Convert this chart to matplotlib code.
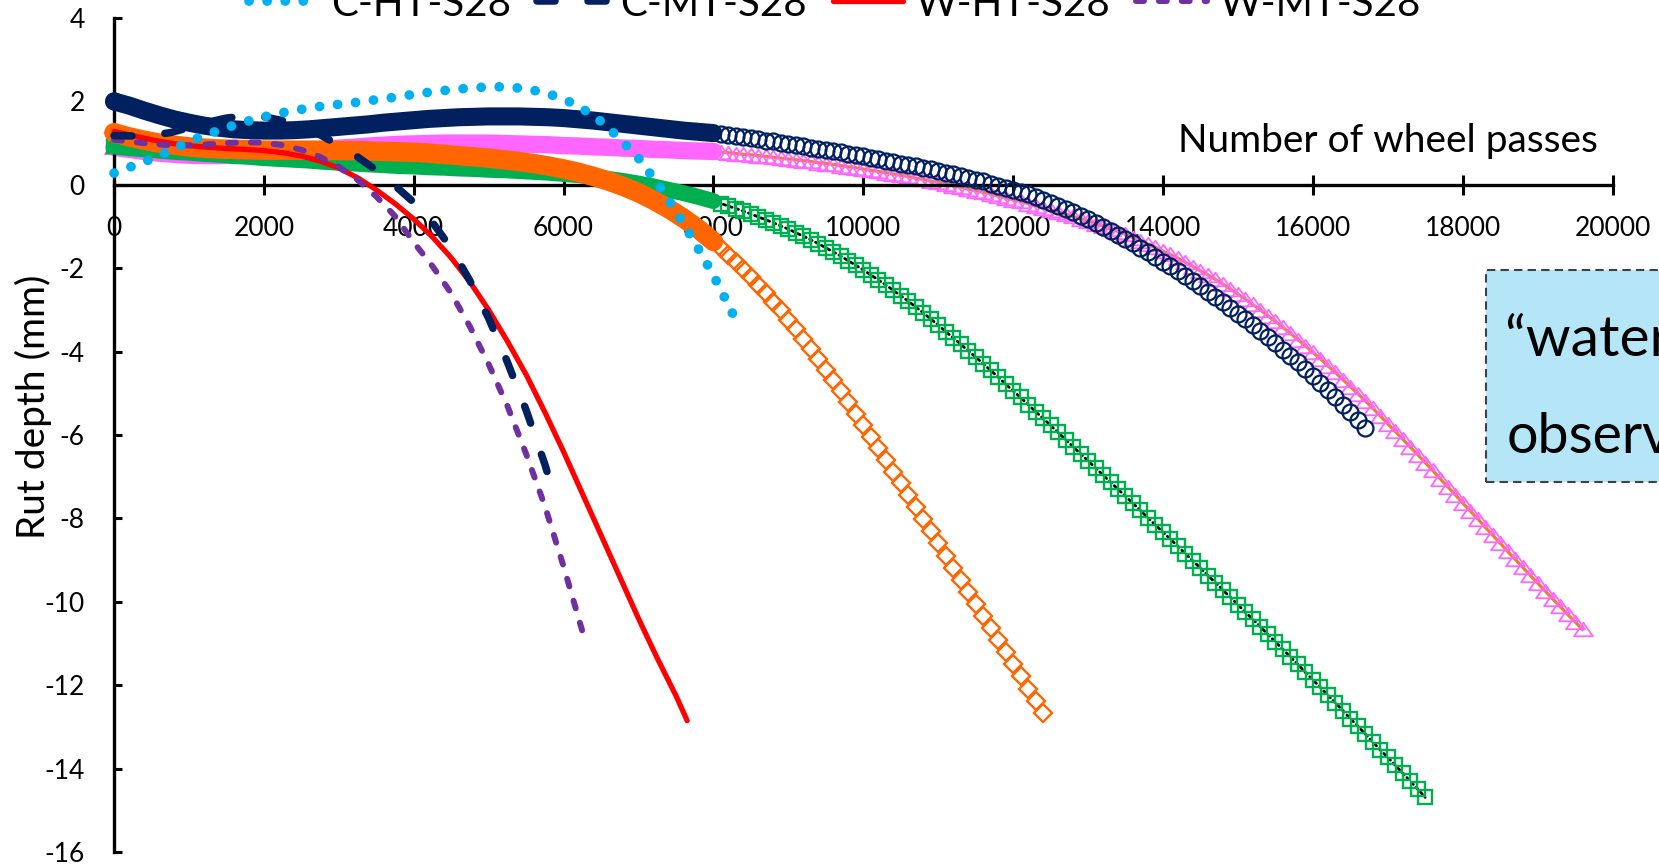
import numpy as np
import matplotlib
matplotlib.use("Agg")
import matplotlib.pyplot as plt
from matplotlib.patches import Rectangle
from matplotlib.path import Path

plt.rcParams['font.family'] = ['Lato', 'DejaVu Sans']
plt.rcParams['axes.unicode_minus'] = False

# ---------------- fitted rut-depth curves (mm vs wheel passes) ----------------
c_ht_x = list(range(0, 8001, 250)) + [8260]
c_ht_y = [0.28, 0.45, 0.62, 0.82, 1.04, 1.21, 1.37, 1.51, 1.63, 1.73, 1.81, 1.88,
          1.93, 1.98, 2.04, 2.10, 2.17, 2.23, 2.28, 2.32, 2.35, 2.35, 2.30, 2.21,
          2.06, 1.83, 1.52, 1.11, 0.64, 0.04, -0.63, -1.38, -2.17, -3.10]

c_mt_x = list(range(0, 5751, 250)) + [5800]
c_mt_y = [1.18, 1.17, 1.19, 1.25, 1.37, 1.50, 1.60, 1.65, 1.63, 1.54, 1.40, 1.20,
          0.95, 0.67, 0.35, -0.02, -0.42, -0.90, -1.52, -2.30, -3.20, -4.25,
          -5.40, -6.70, -7.00]

w_ht_x = list(range(0, 7501, 250)) + [7650]
w_ht_y = [1.28, 1.18, 1.08, 1.00, 0.94, 0.90, 0.87, 0.85, 0.82, 0.77, 0.69, 0.57,
          0.40, 0.17, -0.12, -0.45, -0.82, -1.25, -1.75, -2.33, -3.00, -3.75,
          -4.55, -5.45, -6.40, -7.40, -8.40, -9.40, -10.40, -11.35, -12.25, -12.85]

w_mt_x = list(range(0, 6251, 250))
w_mt_y = [1.08, 1.03, 0.98, 0.95, 0.95, 0.97, 1.00, 1.02, 1.01, 0.95, 0.84, 0.67,
          0.43, 0.12, -0.28, -0.75, -1.38, -1.95, -2.60, -3.40, -4.30, -5.30,
          -6.45, -7.70, -9.15, -10.70]

legend_labels = ['C-HT-S28', 'C-MT-S28', 'W-HT-S28', 'W-MT-S28']

# ---------------- measured rut depth ----------------
# 0-8000 passes (every 200 passes) and the later readings (every 100 passes)
band_x = list(range(0, 8001, 200))

circle_band = [2.00, 1.90, 1.78, 1.67, 1.57, 1.49, 1.42, 1.37, 1.33, 1.31, 1.30,
               1.30, 1.31, 1.33, 1.36, 1.39, 1.42, 1.45, 1.49, 1.52, 1.55, 1.58,
               1.60, 1.62, 1.63, 1.64, 1.64, 1.64, 1.63, 1.62, 1.60, 1.57, 1.54,
               1.50, 1.46, 1.42, 1.38, 1.34, 1.30, 1.27, 1.24]
circle_tail_x = list(range(8100, 16701, 100))
circle_tail = [1.22, 1.19, 1.17, 1.14, 1.12, 1.09, 1.06, 1.04, 1.01, 0.98,
               0.95, 0.92, 0.89, 0.87, 0.84, 0.81, 0.78, 0.74, 0.71, 0.68,
               0.65, 0.61, 0.58, 0.55, 0.51, 0.48, 0.44, 0.41, 0.37, 0.33,
               0.29, 0.25, 0.21, 0.16, 0.12, 0.08, 0.03, -0.02, -0.07, -0.12,
               -0.17, -0.23, -0.29, -0.36, -0.43, -0.50, -0.58, -0.66, -0.74, -0.83,
               -0.92, -1.01, -1.10, -1.20, -1.30, -1.40, -1.51, -1.61, -1.72, -1.84,
               -1.95, -2.07, -2.19, -2.31, -2.43, -2.56, -2.69, -2.82, -2.95, -3.09,
               -3.22, -3.36, -3.51, -3.65, -3.80, -3.95, -4.11, -4.26, -4.42, -4.59,
               -4.75, -4.92, -5.09, -5.27, -5.45, -5.64, -5.83]

tri_band = [0.90, 0.85, 0.80, 0.76, 0.73, 0.71, 0.70, 0.70, 0.71, 0.72, 0.74,
            0.76, 0.79, 0.82, 0.85, 0.88, 0.90, 0.93, 0.95, 0.97, 0.98, 0.99,
            1.00, 1.00, 1.00, 1.00, 0.99, 0.98, 0.97, 0.96, 0.94, 0.93, 0.91,
            0.90, 0.88, 0.87, 0.85, 0.84, 0.82, 0.81, 0.80]
tri_tail_x = list(range(8100, 19601, 100))
tri_tail = [0.78, 0.77, 0.75, 0.73, 0.72, 0.70, 0.68, 0.66, 0.64, 0.62,
            0.60, 0.58, 0.56, 0.53, 0.51, 0.49, 0.46, 0.43, 0.41, 0.38,
            0.35, 0.32, 0.29, 0.26, 0.23, 0.20, 0.16, 0.13, 0.09, 0.06,
            0.02, -0.02, -0.06, -0.10, -0.14, -0.18, -0.22, -0.27, -0.31, -0.36,
            -0.40, -0.45, -0.50, -0.55, -0.60, -0.65, -0.70, -0.76, -0.81, -0.87,
            -0.93, -0.99, -1.06, -1.12, -1.19, -1.27, -1.34, -1.42, -1.50, -1.59,
            -1.67, -1.76, -1.86, -1.96, -2.06, -2.16, -2.27, -2.38, -2.50, -2.62,
            -2.74, -2.87, -3.00, -3.14, -3.27, -3.42, -3.56, -3.71, -3.86, -4.02,
            -4.17, -4.34, -4.50, -4.67, -4.84, -5.01, -5.18, -5.36, -5.54, -5.73,
            -5.91, -6.10, -6.29, -6.47, -6.66, -6.85, -7.05, -7.24, -7.43, -7.63,
            -7.82, -8.01, -8.21, -8.40, -8.59, -8.79, -8.98, -9.17, -9.36, -9.55,
            -9.74, -9.93, -10.11, -10.30, -10.48, -10.66]

diamond_band = [1.25, 1.15, 1.07, 1.00, 0.95, 0.91, 0.88, 0.86, 0.85, 0.84, 0.83,
                0.83, 0.83, 0.83, 0.83, 0.82, 0.82, 0.81, 0.80, 0.79, 0.78, 0.76,
                0.73, 0.70, 0.67, 0.64, 0.60, 0.56, 0.51, 0.45, 0.38, 0.30, 0.20,
                0.09, -0.04, -0.19, -0.37, -0.57, -0.80, -1.06, -1.36]
diamond_tail_x = list(range(8100, 12401, 100))
diamond_tail = [-1.52, -1.68, -1.85, -2.03, -2.21, -2.40, -2.60, -2.80, -3.01, -3.24,
                -3.46, -3.70, -3.94, -4.18, -4.44, -4.69, -4.95, -5.22, -5.49, -5.76,
                -6.04, -6.31, -6.59, -6.88, -7.16, -7.45, -7.73, -8.02, -8.31, -8.60,
                -8.89, -9.18, -9.47, -9.76, -10.05, -10.34, -10.63, -10.92, -11.21, -11.50,
                -11.79, -12.08, -12.37, -12.66]

square_band = [0.92, 0.88, 0.85, 0.82, 0.79, 0.77, 0.74, 0.72, 0.69, 0.67, 0.64,
               0.62, 0.60, 0.58, 0.55, 0.53, 0.51, 0.49, 0.47, 0.45, 0.44, 0.42,
               0.41, 0.39, 0.38, 0.36, 0.35, 0.33, 0.31, 0.29, 0.26, 0.23, 0.19,
               0.14, 0.09, 0.03, -0.04, -0.12, -0.20, -0.29, -0.39]
square_tail_x = list(range(8100, 17501, 100))
square_tail = [-0.45, -0.51, -0.57, -0.63, -0.70, -0.77, -0.84, -0.91, -0.99, -1.06,
               -1.15, -1.23, -1.32, -1.41, -1.51, -1.61, -1.71, -1.82, -1.93, -2.04,
               -2.16, -2.28, -2.40, -2.53, -2.66, -2.79, -2.93, -3.07, -3.22, -3.36,
               -3.52, -3.67, -3.82, -3.98, -4.13, -4.29, -4.45, -4.61, -4.78, -4.94,
               -5.10, -5.27, -5.44, -5.60, -5.77, -5.94, -6.11, -6.28, -6.45, -6.62,
               -6.79, -6.96, -7.13, -7.30, -7.47, -7.64, -7.81, -7.99, -8.16, -8.33,
               -8.50, -8.67, -8.85, -9.02, -9.19, -9.37, -9.54, -9.72, -9.89, -10.07,
               -10.25, -10.42, -10.60, -10.78, -10.96, -11.14, -11.32, -11.50, -11.69, -11.87,
               -12.05, -12.24, -12.42, -12.61, -12.80, -12.98, -13.17, -13.36, -13.55, -13.73,
               -13.92, -14.11, -14.30, -14.49, -14.69]

x_ticks = list(range(0, 20001, 2000))
y_ticks = list(range(-16, 5, 2))

# ---------------- colours ----------------
LIGHT_BLUE = '#00B0F0'
NAVY = '#002060'
RED = '#FF0000'
PURPLE = '#7030A0'
MAGENTA = '#FF66FF'
ORANGE = '#FF6600'
GREEN = '#00B050'
TREND_ORANGE = '#ED7D31'

W, H, DPI = 1659, 866, 100
fig = plt.figure(figsize=(W / DPI, H / DPI), dpi=DPI)
ax = fig.add_axes([114 / W, 1 - 852 / H, 1498.5 / W, 834 / H])
ax.set_xlim(0, 20000)
ax.set_ylim(-16, 4)

for s in ('top', 'right'):
    ax.spines[s].set_visible(False)
ax.spines['bottom'].set_position(('data', 0))
for s in ('left', 'bottom'):
    ax.spines[s].set_linewidth(2.4)
    ax.spines[s].set_color('black')

ax.set_xticks(x_ticks)
ax.set_yticks(y_ticks)
ax.set_xticklabels([str(v) for v in x_ticks])
ax.set_yticklabels([str(v) for v in y_ticks])
ax.tick_params(axis='x', direction='inout', length=13.7, width=2.2, pad=15.5,
               labelsize=19, colors='black')
ax.tick_params(axis='y', direction='in', length=5.8, width=2.2, pad=21,
               labelsize=19, colors='black')

# wide, flat triangle marker
tri_marker = Path([(-1, -0.72), (1, -0.72), (0, 0.72), (-1, -0.72)],
                  [Path.MOVETO, Path.LINETO, Path.LINETO, Path.CLOSEPOLY])


def measured(xt, yt, yb, color, marker, ms, mew, band_lw, z, trend=None):
    # dense early readings merge into a solid band
    ax.plot(band_x, yb, color=color, lw=band_lw, solid_capstyle='round',
            solid_joinstyle='round', zorder=z, clip_on=False)
    if trend is not None:
        ax.plot(band_x + xt, yb + yt, zorder=z - 0.1, clip_on=False, **trend)
    ax.plot([band_x[0]] + xt, [yb[0]] + yt, ls='none', marker=marker, ms=ms,
            mew=mew, mec=color, mfc='none', zorder=z, clip_on=False)


measured(tri_tail_x, tri_tail, tri_band, MAGENTA, tri_marker, 13.5, 1.3, 12.5, 2,
         trend=dict(color=TREND_ORANGE, lw=2.3))
measured(square_tail_x, square_tail, square_band, GREEN, 's', 9.8, 1.7, 11.5, 3,
         trend=dict(color='black', lw=2.0, ls=(0, (1.0, 1.4)),
                    dash_capstyle='round'))
measured(diamond_tail_x, diamond_tail, diamond_band, ORANGE, 'D', 9.0, 1.7, 14.0, 4)
measured(circle_tail_x, circle_tail, circle_band, NAVY, 'o', 11.5, 1.6, 13.0, 5)

h_wht, = ax.plot(w_ht_x, w_ht_y, color=RED, lw=3.8, zorder=10, clip_on=False,
                 solid_capstyle='round')
h_wmt, = ax.plot(w_mt_x, w_mt_y, color=PURPLE, lw=4.3, zorder=11, clip_on=False,
                 ls=(0, (1.33, 2.5)), dash_capstyle='round')
h_cmt, = ax.plot(c_mt_x, c_mt_y, color=NAVY, lw=5.4, zorder=12, clip_on=False,
                 ls=(0, (2.4, 4.4)), dash_capstyle='round')
h_cht, = ax.plot(c_ht_x, c_ht_y, color=LIGHT_BLUE, lw=7.0, zorder=13, clip_on=False,
                 ls=(0, (0.01, 1.85)), dash_capstyle='round')

fig.legend([h_cht, h_cmt, h_wht, h_wmt], legend_labels, loc='center',
           bbox_to_anchor=(0.503, 1 - 4 / H), ncol=4, frameon=False, fontsize=29,
           handlelength=1.75, handletextpad=0.3, columnspacing=0.65,
           borderaxespad=0, borderpad=0)

fig.text(45 / W, 1 - 407 / H, 'Rut depth (mm)', rotation=90, rotation_mode='anchor',
         ha='center', va='baseline', fontsize=28)
fig.text(1388 / W, 1 - 151.7 / H, 'Number of wheel passes', ha='center',
         va='baseline', fontsize=28)

# annotation box on the right
box = Rectangle((1486 / W, 1 - 482 / H), 0.2, 212 / H, transform=fig.transFigure,
                facecolor='#B4E6F8', edgecolor='#404040', lw=1.5,
                ls=(0, (4, 2.5)), zorder=20)
fig.add_artist(box)
fig.text(1505 / W, 1 - 356 / H, '\u201cwater damage\u201d', ha='left', va='baseline',
         fontsize=41, zorder=21)
fig.text(1507 / W, 1 - 453 / H, 'observed', ha='left', va='baseline',
         fontsize=40, zorder=21)

fig.savefig('out.png', dpi=DPI)
